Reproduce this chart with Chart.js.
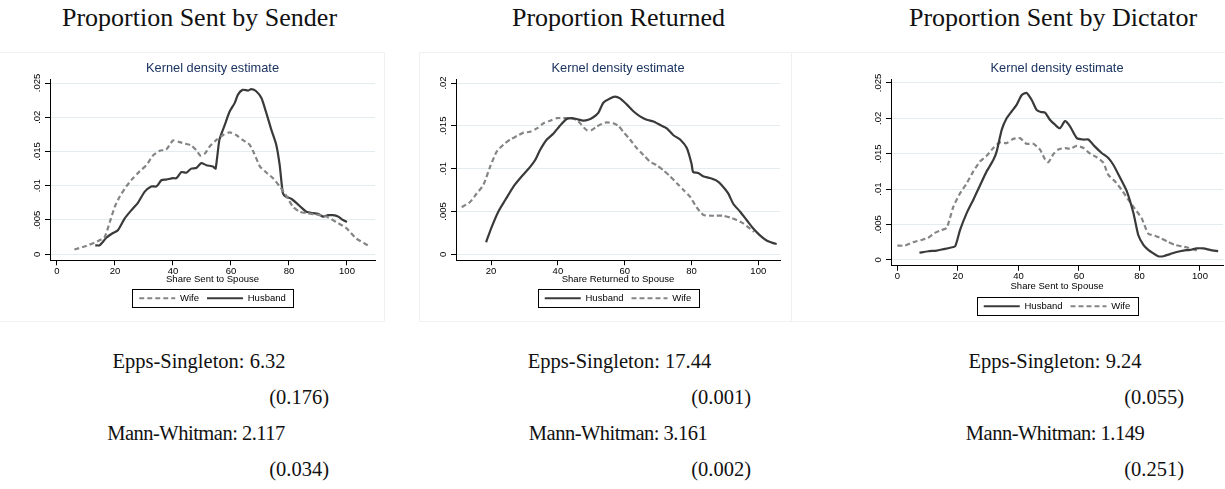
<!DOCTYPE html>
<html>
<head>
<meta charset="utf-8">
<script src="https://cdn.jsdelivr.net/npm/chart.js@4.4.1/dist/chart.umd.min.js"></script>
<style>
  body { margin: 0; width: 1225px; height: 489px; overflow: hidden; background: #fff; position: relative;
         font-family: "Liberation Serif", "Times New Roman", serif; color: #111; }
  .frame { position: absolute; border: 1px solid #f1f1f1; box-sizing: border-box; }
  canvas { position: absolute; }
  .head { position: absolute; top: 5px; font-size: 26px; line-height: 26px; white-space: nowrap; transform: translateX(-50%); }
  .stat { position: absolute; font-size: 20.5px; line-height: 20.5px; white-space: nowrap; }
  .c { transform: translateX(-50%); }
  .r { transform: translateX(-100%); }
  .mw { letter-spacing: -0.5px; }
</style>
</head>
<body>
<div class="frame" style="left:-1px;top:52px;width:386px;height:270px"></div>
<div class="frame" style="left:419px;top:52px;width:373px;height:270px"></div>
<div class="frame" style="left:791px;top:52px;width:436px;height:270px"></div>

<div class="head" style="left:199.5px">Proportion Sent by Sender</div>
<div class="head" style="left:618.5px">Proportion Returned</div>
<div class="head" style="left:1053px">Proportion Sent by Dictator</div>

<canvas id="c1" width="385" height="263" style="left:0px;top:50px"></canvas>
<canvas id="c2" width="390" height="263" style="left:400px;top:50px"></canvas>
<canvas id="c3" width="390" height="271" style="left:835px;top:50px"></canvas>

<div class="stat c" style="left:199px;top:351px">Epps-Singleton: 6.32</div>
<div class="stat r" style="left:329px;top:387px">(0.176)</div>
<div class="stat c mw" style="left:196px;top:423px">Mann-Whitman: 2.117</div>
<div class="stat r" style="left:329px;top:459px">(0.034)</div>

<div class="stat c" style="left:619.5px;top:351px">Epps-Singleton: 17.44</div>
<div class="stat r" style="left:751px;top:387px">(0.001)</div>
<div class="stat c mw" style="left:618px;top:423px">Mann-Whitman: 3.161</div>
<div class="stat r" style="left:751px;top:459px">(0.002)</div>

<div class="stat c" style="left:1055px;top:351px">Epps-Singleton: 9.24</div>
<div class="stat r" style="left:1184px;top:387px">(0.055)</div>
<div class="stat c mw" style="left:1055px;top:423px">Mann-Whitman: 1.149</div>
<div class="stat r" style="left:1184px;top:459px">(0.251)</div>

<script>
// Proportion sent by sender
const senderWifeX = [6, 10, 14, 16.4, 18.2, 19.9, 21.6, 23.9, 26.2, 28.5, 30.8, 33.1, 35.4, 37.7, 40, 42, 44.6, 46.3, 48,
  49.5, 51, 52.6, 55, 57.3, 59.5, 61.8, 64, 66.4, 68, 70, 72, 74.5, 76.8, 79, 81.4, 83.7, 86, 89.4, 92.9, 96.3, 99.8, 103.2, 107.2];
const senderWifeY = [.0007, .0012, .0019, .0025, .0047, .0069, .0084, .0099, .0111, .0121, .0130, .0144, .0151, .0153, .0166, .0164, .0161, .0159, .0152,
  .0144, .0147, .0157, .0167, .0174, .0178, .0174, .0167, .0160, .0147, .0128, .0120, .0111, .0099, .0086, .0069, .0062, .0060, .0058, .0055, .0047, .0038, .0023, .0013];
const senderHusbandX = [13.2, 14.7, 17, 19.3, 21, 23.3, 25.6, 27.9, 30.2, 32.5, 34.3, 36, 37.7, 40, 41.2, 42.9, 44.6, 46.3, 48, 49.8,
  51.5, 53.8, 54.7, 56, 57.7, 59.5, 61.3, 62.4, 64, 65.9, 67, 68.7, 70.5, 72.2, 73.9, 75.6, 76.8, 77.9, 79, 80.8, 82.5, 84.3, 86,
  88.3, 90, 91.7, 93.5, 95.2, 96.9, 98.6, 100];
const senderHusbandY = [.0013, .0013, .0024, .0031, .0035, .0052, .0064, .0075, .0091, .0099, .0099, .0108, .0109, .0111, .0111, .0120, .0119, .0125, .0126, .0133,
  .0130, .0128, .0125, .0167, .0187, .0208, .0221, .0233, .0240, .0239, .0241, .0238, .0228, .0206, .0182, .0160, .0130, .0089, .0084, .0081, .0075, .0068, .0062,
  .0060, .0059, .0055, .0057, .0057, .0055, .0050, .0047];

// Proportion returned
const returnedWifeX = [11.2, 13.7, 15.7, 17.7, 19.7, 21.7, 23.7, 25.7, 27.7, 29.7, 31.7, 33.7, 35.7, 37.7, 39.7, 41.6, 43.6, 45.6, 47.1,
  48.6, 50.1, 51.6, 53.1, 54.6, 56.6, 58.1, 59.6, 61.6, 63.6, 65.6, 67.6, 69.6, 71.6, 73.6, 75.6, 77.6, 79.6, 81.5, 83.5, 85.5,
  87.5, 89.5, 91.5, 93.5, 95.5, 97.5, 98.7];
const returnedWifeY = [.0055, .0061, .0071, .0081, .0102, .0120, .0128, .0134, .0138, .0142, .0143, .0147, .0153, .0156, .0159, .0159, .0159, .0157, .0151,
  .0145, .0145, .0149, .0152, .0154, .0153, .0150, .0143, .0134, .0124, .0116, .0108, .0104, .0098, .0091, .0083, .0075, .0067, .0055, .0046, .0045,
  .0045, .0045, .0043, .0040, .0036, .0030, .0026];
const returnedHusbandX = [18.5, 20.2, 22.2, 24.2, 26.7, 29.2, 31.7, 33.2, 34.7, 36.7, 38.7, 40.6, 42.6, 44.1, 45.6, 47.6, 49.1, 50.6, 52.1,
  53.6, 55.6, 57.1, 58.6, 60.6, 62.6, 64.6, 66.6, 68.6, 70.6, 72.6, 74.6, 76.6, 78.6, 80, 80.5, 82, 83.5, 85.5, 87.5, 89, 91,
  92.5, 94.5, 96.5, 98.5, 100.5, 102.5, 104.5, 105.5];
const returnedHusbandY = [.0014, .0032, .0050, .0063, .0079, .0091, .0102, .0110, .0122, .0134, .0141, .0150, .0158, .0159, .0158, .0156, .0157, .0160, .0165,
  .0177, .0182, .0184, .0182, .0175, .0167, .0161, .0157, .0155, .0151, .0147, .0139, .0134, .0124, .0106, .0096, .0095, .0091, .0089, .0086, .0081, .0071,
  .0059, .0050, .0040, .0030, .0022, .0016, .0013, .0012];

// Proportion sent by dictator
const dictatorWifeX = [0, 2.5, 5.3, 8, 10.2, 12.4, 14.6, 16.3, 18.5, 20.7, 22.9, 25.1, 27.3, 29.5, 31.7, 33.9, 36.1, 38.3, 40.5,
  42.7, 44.9, 47.1, 48.8, 49.9, 51.5, 53.2, 55.4, 57, 59.3, 61.5, 63.7, 65.9, 68.1, 69.7, 71.9, 74.1, 76.3, 78.5, 80.7, 82.9,
  85.1, 87.3, 89.5, 91.7, 93.9, 96.1, 98.3, 99.8];
const dictatorWifeY = [.0020, .0020, .0025, .0028, .0031, .0038, .0042, .0045, .0075, .0094, .0108, .0125, .0139, .0147, .0158, .0166, .0165, .0171, .0172,
  .0164, .0164, .0156, .0142, .0138, .0149, .0156, .0158, .0157, .0161, .0158, .0150, .0145, .0137, .0120, .0111, .0099, .0085, .0072, .0059, .0037,
  .0034, .0030, .0025, .0021, .0019, .0017, .0014, .0013];
const dictatorHusbandX = [7.3, 10.2, 13, 15.2, 17.4, 19.1, 20.7, 22.9, 25.1, 27.3, 29.5, 31.7, 32.8, 34.5, 36.1, 37.8, 39.4, 41.1, 42.7,
  44.4, 46, 47.4, 48.8, 50.4, 52.1, 53.7, 55.4, 57, 59.3, 61.5, 63.1, 65.3, 67.5, 69.7, 71.4, 73.6, 75.8, 78, 79.6, 81.3, 82.9,
  84.6, 86.2, 87.9, 90.1, 92.3, 94.5, 96.7, 98.9, 101.1, 103.3, 106];
const dictatorHusbandY = [.0010, .0012, .0013, .0015, .0017, .0019, .0042, .0066, .0085, .0105, .0125, .0141, .0153, .0184, .0200, .0210, .0219, .0233, .0236,
  .0226, .0212, .0209, .0208, .0198, .0191, .0186, .0196, .0189, .0172, .0170, .0170, .0160, .0151, .0144, .0134, .0116, .0097, .0066, .0035, .0021, .0014,
  .0009, .0005, .0005, .0008, .0011, .0013, .0014, .0016, .0016, .0014, .0012];

const yTicksStep = 0.005;
const xTicksStep = 20;

const SANS = '"Liberation Sans", Arial, sans-serif';
const NAVY = '#1b3461';
const GRID = '#e3edf0';
const HUSBAND = '#3a3a3a';
const WIFE = '#858585';

const toPoints = (xs, ys) => xs.map((x, i) => ({ x: x, y: ys[i] }));

function husbandSet(xs, ys) {
  return { label: 'Husband', data: toPoints(xs, ys), borderColor: HUSBAND, backgroundColor: HUSBAND,
    borderWidth: 2.2, pointRadius: 0, tension: 0.2 };
}
function wifeSet(xs, ys) {
  return { label: 'Wife', data: toPoints(xs, ys), borderColor: WIFE, backgroundColor: WIFE,
    borderWidth: 2.2, borderDash: [5, 3], pointRadius: 0, tension: 0.2 };
}

// legend samples keep the dataset's dash
function lineLabels(chart) {
  return chart.data.datasets.map((ds, i) => ({
    text: ds.label, datasetIndex: i, hidden: false,
    strokeStyle: ds.borderColor, fillStyle: ds.borderColor,
    lineWidth: ds.borderWidth, lineDash: ds.borderDash || [], pointStyle: 'line'
  }));
}

// box round the legend, as Stata draws it
const legendBox = {
  id: 'legendBox',
  afterDraw(chart) {
    const hb = chart.legend && chart.legend.legendHitBoxes;
    if (!hb || !hb.length) return;
    const left = Math.min(...hb.map(h => h.left)) - 7;
    const right = Math.max(...hb.map(h => h.left + h.width)) + 7;
    const cy = hb[0].top + hb[0].height / 2;
    const ctx = chart.ctx;
    ctx.save();
    ctx.strokeStyle = '#000';
    ctx.lineWidth = 1;
    ctx.setLineDash([]);
    ctx.strokeRect(Math.round(left) + 0.5, Math.round(cy - 9) + 0.5, Math.round(right - left), 18);
    ctx.restore();
  }
};

function yLabel(v) {
  if (Math.abs(v) < 1e-9) return '0';
  return String(+v.toFixed(3)).replace(/^0\./, '.');
}

function makePanel(id, datasets, p) {
  new Chart(document.getElementById(id), {
    type: 'line',
    data: { datasets: datasets },
    plugins: [legendBox],
    options: {
      responsive: false,
      animation: false,
      devicePixelRatio: 1,
      layout: { padding: { left: 0, right: p.padRight, top: 0, bottom: 0 } },
      plugins: {
        title: {
          display: true, fullSize: false, text: 'Kernel density estimate', color: NAVY,
          font: { family: SANS, size: 12.8, weight: 'normal', lineHeight: 1.2 },
          padding: { top: 11, bottom: 2.64 }
        },
        legend: {
          position: 'bottom', fullSize: false,
          labels: { usePointStyle: true, pointStyle: 'line', pointStyleWidth: 36, padding: 8,
            generateLabels: lineLabels, color: '#000', font: { family: SANS, size: 9.5 } }
        },
        tooltip: { enabled: false }
      },
      scales: {
        x: {
          type: 'linear', min: p.xMin, max: p.xMax,
          ticks: { stepSize: xTicksStep, includeBounds: false, color: '#000', padding: 0, maxRotation: 0,
            font: { family: SANS, size: 9.5 } },
          grid: { drawOnChartArea: false, tickLength: 5, tickColor: '#000' },
          border: { color: '#000', width: 1 },
          title: { display: true, text: p.xTitle, color: '#000', font: { family: SANS, size: 9.5 },
            padding: { top: 0, bottom: p.titlePad } },
          afterFit: s => { s.height = p.xHeight; }
        },
        y: {
          min: p.yMin, max: p.yMax,
          ticks: { stepSize: yTicksStep, includeBounds: false, minRotation: 90, maxRotation: 90,
            crossAlign: 'center', padding: -2, color: '#000', font: { family: SANS, size: 9.5 }, callback: yLabel },
          grid: { color: GRID, tickColor: '#000', tickLength: 5 },
          border: { color: '#000', width: 1 },
          afterFit: s => { s.width = p.yWidth; }
        }
      }
    }
  });
}

makePanel('c1', [wifeSet(senderWifeX, senderWifeY), husbandSet(senderHusbandX, senderHusbandY)], {
  xMin: -2.41, xMax: 109.66, yMin: -0.000877, yMax: 0.025585, padRight: 10, yWidth: 50,
  xHeight: 25.25, titlePad: 0, xTitle: 'Share Sent to Spouse'
});
makePanel('c2', [husbandSet(returnedHusbandX, returnedHusbandY), wifeSet(returnedWifeX, returnedWifeY)], {
  xMin: 9.5, xMax: 106.5, yMin: -0.000702, yMax: 0.020468, padRight: 10, yWidth: 56,
  xHeight: 25.25, titlePad: 0, xTitle: 'Share Returned to Spouse'
});
makePanel('c3', [husbandSet(dictatorHusbandX, dictatorHusbandY), wifeSet(dictatorWifeX, dictatorWifeY)], {
  xMin: -2.1, xMax: 107.6, yMin: -0.000847, yMax: 0.025565, padRight: 2, yWidth: 56,
  xHeight: 27.75, titlePad: 1, xTitle: 'Share Sent to Spouse'
});
</script>
</body>
</html>
